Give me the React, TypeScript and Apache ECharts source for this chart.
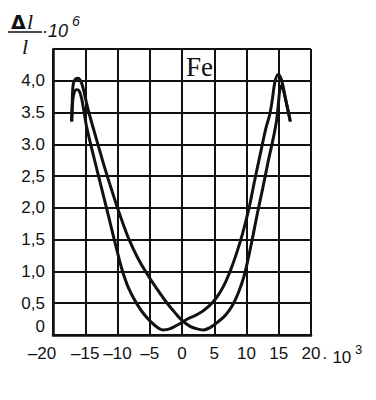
import React, { useEffect, useRef } from 'react';
import * as echarts from 'echarts';

const xTicks = [-20, -15, -10, -5, 0, 5, 10, 15, 20];
const xTickLabels = ['–20', '–15', '–10', '–5', '0', '5', '10', '15', '20'];
const yTicks = [0, 0.5, 1, 1.5, 2, 2.5, 3, 3.5, 4];
const yTickLabels = ['0', '0,5', '1,0', '1,5', '2,0', '2,5', '3.0', '3.5', '4,0'];

// branch with minimum on the left
const leftMinX = [-17.1, -17.0, -16.8, -16.4, -16.0, -15.6, -15.2, -14.8, -14.2, -13.5, -12.3, -11.2, -10.2, -9.3, -8.3, -7.0, -5.6, -4.2, -3.0, -1.8, -0.5, 1.0, 2.5, 4.0, 5.3, 6.5, 7.6, 8.5, 9.4, 10.4, 11.2, 12.1, 13.0, 13.6, 14.0, 14.4, 14.9, 15.4, 16.1, 16.8];
const leftMinY = [3.36, 3.62, 3.78, 3.86, 3.85, 3.74, 3.52, 3.28, 3.02, 2.73, 2.24, 1.79, 1.38, 1.03, 0.74, 0.49, 0.29, 0.15, 0.08, 0.1, 0.17, 0.26, 0.33, 0.44, 0.58, 0.78, 1.04, 1.3, 1.6, 2.0, 2.4, 2.83, 3.25, 3.47, 3.7, 3.98, 4.1, 4.02, 3.69, 3.36];

// branch with minimum on the right
const rightMinX = [-17.1, -17.0, -16.9, -16.6, -16.1, -15.6, -15.2, -14.8, -14.3, -13.6, -12.7, -11.8, -10.9, -10.0, -9.1, -8.2, -6.9, -5.6, -4.0, -2.3, -1.0, 0.0, 1.2, 2.2, 3.3, 4.4, 5.5, 6.8, 7.9, 8.8, 9.6, 10.3, 11.0, 11.7, 12.5, 13.4, 14.2, 14.7, 15.0, 15.2, 15.45, 15.7, 16.1, 16.8];
const rightMinY = [3.36, 3.7, 3.92, 4.02, 4.04, 3.97, 3.83, 3.65, 3.45, 3.2, 2.88, 2.57, 2.28, 2.0, 1.74, 1.5, 1.22, 0.99, 0.74, 0.5, 0.34, 0.23, 0.14, 0.1, 0.08, 0.12, 0.2, 0.32, 0.48, 0.68, 0.92, 1.22, 1.56, 1.92, 2.3, 2.75, 3.12, 3.4, 3.7, 3.88, 3.92, 3.86, 3.69, 3.36];

const FONT = "'Liberation Sans', Arial, sans-serif";

export default function App() {
  const ref = useRef<HTMLDivElement>(null);
  useEffect(() => {
    const chart = echarts.init(ref.current!, null, { renderer: 'svg' });
    const pairs = (xs: number[], ys: number[]) => xs.map((x, i) => [x, ys[i]]);
    const lineStyle = { color: '#111', width: 2 };
    chart.setOption({
      animation: false,
      backgroundColor: '#fff',
      grid: { left: 53, right: 65, top: 49, bottom: 65 },
      xAxis: {
        type: 'value', min: -20, max: 20, interval: 5,
        axisLine: { show: true, onZero: false, lineStyle: { color: '#111', width: 2.5 } },
        axisTick: { show: false },
        splitLine: { show: true, lineStyle },
        axisLabel: {
          margin: 10, color: '#111', fontSize: 17, fontFamily: FONT,
          formatter: (v: number) => {
            const i = xTicks.indexOf(v);
            if (i < 0) return '';
            return i === 0 ? '{first|' + xTickLabels[i] + '}' : xTickLabels[i];
          },
          rich: { first: { fontSize: 17, fontFamily: FONT, color: '#111', padding: [0, 22, 0, 0] } },
        },
      },
      yAxis: {
        type: 'value', min: 0, max: 4.5, interval: 0.5,
        axisLine: { show: true, onZero: false, lineStyle: { color: '#111', width: 2.5 } },
        axisTick: { show: false },
        splitLine: { show: true, lineStyle },
        axisLabel: {
          margin: 8, color: '#111', fontSize: 17, fontFamily: FONT,
          formatter: (v: number) => {
            const i = yTicks.findIndex((t) => Math.abs(t - v) < 1e-6);
            if (i < 0) return '';
            return i === 0 ? '{zero|' + yTickLabels[i] + '}' : yTickLabels[i];
          },
          rich: { zero: { fontSize: 17, fontFamily: FONT, color: '#111', padding: [0, 0, 18, 0] } },
        },
      },
      series: [
        { type: 'line', data: pairs(leftMinX, leftMinY), showSymbol: false, symbol: 'none', smooth: 0.35, lineStyle: { color: '#111', width: 3 } },
        { type: 'line', data: pairs(rightMinX, rightMinY), showSymbol: false, symbol: 'none', smooth: 0.35, lineStyle: { color: '#111', width: 3 } },
      ],
      graphic: [
        { type: 'text', x: 186, y: 67, style: { text: 'Fe', font: "27px 'Liberation Serif', serif", fill: '#111', verticalAlign: 'middle' } },
        { type: 'text', x: 11, y: 22, style: { text: 'Δ', font: "bold 19px 'DejaVu Sans', sans-serif", fill: '#111', verticalAlign: 'middle' } },
        { type: 'text', x: 27, y: 21, style: { text: 'l', font: "italic 22px 'Liberation Serif', serif", fill: '#111', verticalAlign: 'middle' } },
        { type: 'line', shape: { x1: 8, y1: 32, x2: 42, y2: 32 }, style: { stroke: '#111', lineWidth: 1.5 } },
        { type: 'text', x: 22, y: 46, style: { text: 'l', font: "italic 22px 'Liberation Serif', serif", fill: '#111', verticalAlign: 'middle' } },
        { type: 'text', x: 42, y: 31, style: { text: '·10', font: `italic 18px ${FONT}`, fill: '#111', verticalAlign: 'middle' } },
        { type: 'text', x: 72, y: 21, style: { text: '6', font: `italic 14px ${FONT}`, fill: '#111', verticalAlign: 'middle' } },
        { type: 'text', x: 322, y: 357, style: { text: '· 10', font: `17px ${FONT}`, fill: '#111', verticalAlign: 'middle' } },
        { type: 'text', x: 355, y: 349, style: { text: '3', font: `13px ${FONT}`, fill: '#111', verticalAlign: 'middle' } },
      ],
    });
    return () => chart.dispose();
  }, []);
  return <div ref={ref} style={{ position: 'fixed', left: 0, top: 0, width: 376, height: 400 }} />;
}
